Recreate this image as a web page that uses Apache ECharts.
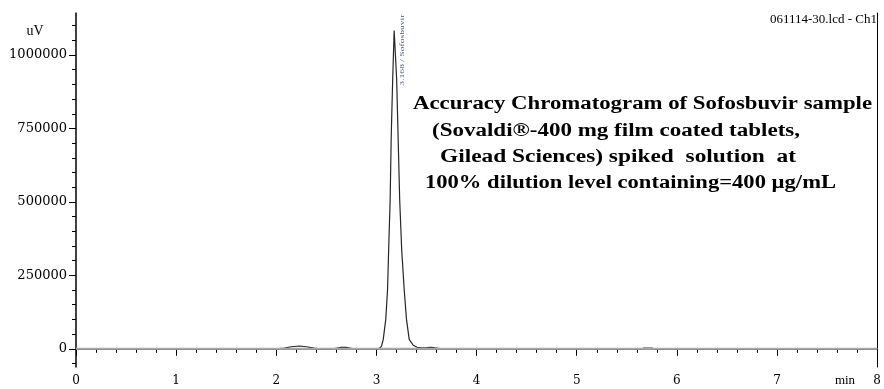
<!DOCTYPE html>
<html><head><meta charset="utf-8">
<script src="https://cdn.jsdelivr.net/npm/echarts@6/dist/echarts.min.js"></script>
<style>html,body{margin:0;padding:0;background:#fff}#c{width:884px;height:389px}</style>
</head><body><div id="c"></div>
<script>
// ---- data ----
const times = [0, 2.0, 2.08, 2.15, 2.23, 2.30, 2.38, 2.45, 2.52, 2.58, 2.65, 2.70, 2.76, 2.85, 2.95, 3.02,
  3.033, 3.043, 3.053, 3.068, 3.093, 3.111, 3.122, 3.137, 3.147, 3.162, 3.177,
  3.202, 3.217, 3.232, 3.252, 3.277, 3.300, 3.327, 3.367, 3.406, 3.45, 3.506, 3.55, 3.60, 3.65,
  5.65, 5.67, 5.75, 5.77, 8];
const signal = [0, 0, 2000, 7000, 9500, 7000, 2000, -1000, -1500, 1000, 4500, 4500, 1000, -500, -500, 0,
  1500, 5000, 12000, 32000, 100000, 202000, 338000, 508500, 712600, 916000, 1083000,
  916000, 712600, 508500, 338000, 202000, 100000, 32000, 12000, 5000, 3000, 4000, 5000, 2500, 0,
  0, 2000, 2000, 0, 0];
const baselineTimes = [0, 8];
const baselineValues = [0, 0];
const xTickLabels = ['0', '1', '2', '3', '4', '5', '6', '7', '8'];
const yLabelValues = [0, 250000, 500000, 750000, 1000000];
const yTickLabels = ['0', '250000', '500000', '750000', '1000000'];
const yMinorValues = [-50000, 0, 50000, 100000, 150000, 200000, 250000, 300000, 350000, 400000, 450000, 500000,
  550000, 600000, 650000, 700000, 750000, 800000, 850000, 900000, 950000, 1000000, 1050000, 1100000];
const titleLines = [
  'Accuracy Chromatogram of Sofosbuvir sample',
  '(Sovaldi®-400 mg film coated tablets,',
  'Gilead Sciences) spiked  solution  at',
  '100% dilution level containing=400 µg/mL'
];
const fileLabel = '061114-30.lcd - Ch1';
const yUnit = 'uV';
const xUnit = 'min';
const peakLabel = '3.168 / Sofosbuvir';
const peakTime = 3.177;
const peakHeight = 1083000;

// ---- chart ----
const chart = echarts.init(document.getElementById('c'), null, {renderer: 'canvas'});
const SERIF = '"Liberation Serif", "Times New Roman", serif';
const AXF = '"DejaVu Serif", serif';
const option = {
  animation: false,
  grid: {left: 76, right: 5, top: 13, bottom: 22, containLabel: false},
  xAxis: [{
    type: 'value', min: 0, max: 8, interval: 1,
    axisLine: {lineStyle: {color: '#000', width: 1.5}},
    axisTick: {length: 7, lineStyle: {color: '#000', width: 1}},
    minorTick: {show: true, splitNumber: 5, length: 4, lineStyle: {color: '#000', width: 1}},
    axisLabel: {color: '#000', fontFamily: AXF, fontSize: 12, margin: 8,
      formatter: v => xTickLabels[Math.round(v)]},
    splitLine: {show: false}, minorSplitLine: {show: false}
  }, {
    type: 'value', min: 0, max: 8, position: 'top',
    axisLine: {lineStyle: {color: '#666', width: 2}},
    axisTick: {show: false}, axisLabel: {show: false}, splitLine: {show: false}
  }],
  yAxis: [{
    type: 'value', min: -62000, max: 1143000,
    axisLine: {lineStyle: {color: '#000', width: 1.5}},
    axisTick: {customValues: yLabelValues, length: 7, lineStyle: {color: '#000'}},
    axisLabel: {customValues: yLabelValues, color: '#000', fontFamily: AXF, fontSize: 13, margin: 9,
      formatter: v => yTickLabels[yLabelValues.indexOf(v)]},
    splitLine: {show: false}
  }, {
    type: 'value', min: -62000, max: 1143000, position: 'left',
    axisLine: {show: false},
    axisTick: {customValues: yMinorValues, length: 4, lineStyle: {color: '#000'}},
    axisLabel: {show: false}, splitLine: {show: false}
  }, {
    type: 'value', min: -62000, max: 1143000, position: 'right',
    axisLine: {lineStyle: {color: '#000', width: 1}},
    axisTick: {show: false}, axisLabel: {show: false}, splitLine: {show: false}
  }],
  series: [{
    type: 'line', xAxisIndex: 0, yAxisIndex: 0, z: 2,
    data: times.map((t, i) => [t, signal[i]]),
    symbol: 'none', lineStyle: {color: '#262626', width: 1.2}
  }, {
    type: 'line', xAxisIndex: 0, yAxisIndex: 0, z: 3,
    data: baselineTimes.map((t, i) => [t, baselineValues[i]]),
    symbol: 'none', lineStyle: {color: '#a9a9a9', width: 2}
  }]
};
chart.setOption(option);

const mctx = document.createElement('canvas').getContext('2d');
function fit(text, font, target) {
  mctx.font = font;
  return target / mctx.measureText(text).width;
}
const titleX = [413, 432, 440, 425];
const titleY = [104, 131, 157, 183];
const titleW = [459, 368, 356, 411];
const TF = 'bold 18px "Liberation Serif"';
const graphics = titleLines.map((t, i) => ({
  type: 'text', x: titleX[i], y: titleY[i], scaleX: fit(t, TF, titleW[i]),
  style: {text: t, fontFamily: SERIF, fontSize: 18, fontWeight: 'bold', fill: '#000', align: 'left', verticalAlign: 'middle'}
}));
const apex = chart.convertToPixel({xAxisIndex: 0, yAxisIndex: 0}, [peakTime, peakHeight]);
graphics.push({
  type: 'text', x: apex[0] + 8, y: apex[1] + 55, rotation: Math.PI / 2,
  scaleX: fit(peakLabel, '7px "Liberation Serif"', 71),
  style: {text: peakLabel, fontFamily: SERIF, fontSize: 7, fill: '#4d5a7a', align: 'left', verticalAlign: 'middle'}
});
graphics.push({
  type: 'text', x: 877, y: 20, scaleX: fit(fileLabel, '13px "Liberation Serif"', 107),
  style: {text: fileLabel, fontFamily: SERIF, fontSize: 13, fill: '#000', align: 'right', verticalAlign: 'middle'}
});
graphics.push({
  type: 'text', x: 35, y: 31,
  style: {text: yUnit, fontFamily: SERIF, fontSize: 14, fill: '#000', align: 'center', verticalAlign: 'middle'}
});
graphics.push({
  type: 'text', x: 845, y: 381,
  style: {text: xUnit, fontFamily: SERIF, fontSize: 13, fill: '#000', align: 'center', verticalAlign: 'middle'}
});
chart.setOption({graphic: graphics});
</script></body></html>
